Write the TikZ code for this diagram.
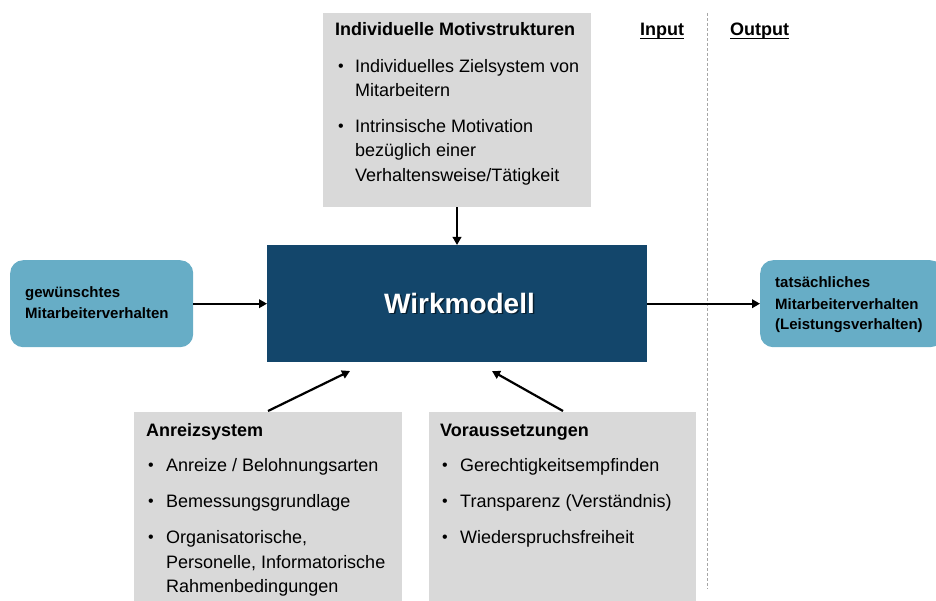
\documentclass[tikz,border=0pt]{standalone}
\usepackage{fontspec}
\setmainfont{Liberation Sans}
\usetikzlibrary{arrows.meta}
\definecolor{navy}{HTML}{13466B}
\definecolor{lblue}{HTML}{67ADC6}
\definecolor{lgray}{HTML}{D9D9D9}
\definecolor{dgray}{HTML}{A6A6A6}
\tikzset{
  graybox/.style={fill=lgray, draw=none, anchor=north west, inner sep=0pt},
  bluebox/.style={fill=lblue, draw=none, rounded corners=13pt, anchor=north west, inner sep=0pt},
  ttl/.style={anchor=base west, inner sep=0pt, font=\fontsize{18}{22}\selectfont\bfseries},
  itm/.style={anchor=base west, inner sep=0pt, font=\fontsize{18}{22}\selectfont},
  bul/.style={anchor=base west, inner sep=0pt, font=\fontsize{16}{22}\selectfont},
  btxt/.style={anchor=base west, inner sep=0pt, font=\fontsize{15}{20}\selectfont\bfseries},
  arr/.style={line width=2.2pt, -{Triangle[length=8pt,width=8.5pt]}},
  uline/.style={line width=1.2pt},
}
\begin{document}
\begin{tikzpicture}[x=1pt,y=-1pt]
\useasboundingbox (0,0) rectangle (936,601);
\clip (0,0) rectangle (936,601);
% boxes
\node[graybox, minimum width=268pt, minimum height=194pt] (mot) at (323,13) {};
\node[graybox, minimum width=268pt, minimum height=195pt] (anr) at (134,412) {};
\node[graybox, minimum width=267pt, minimum height=195pt] (vor) at (429,412) {};
\node[fill=navy, anchor=north west, inner sep=0pt, minimum width=380pt, minimum height=117pt] (wirk) at (267,245) {};
\node[bluebox, minimum width=183pt, minimum height=87pt] (gew) at (10,260) {};
\node[bluebox, minimum width=183pt, minimum height=87pt] (tat) at (760,260) {};
% dashed separator
\coordinate (dtop) at (707,13);
\coordinate (dbot) at (707,589);
\draw[dgray, line width=1pt, dash pattern=on 3pt off 2pt] (dtop) -- (dbot);
% Input / Output
\node[ttl] (inp) at (640,36) {Input};
\node[ttl] (outp) at (730,36) {Output};
\draw[uline] ([yshift=-2.5pt]inp.base west) -- ([yshift=-2.5pt]inp.base east);
\draw[uline] ([yshift=-2.5pt]outp.base west) -- ([yshift=-2.5pt]outp.base east);
% Wirkmodell text
\node[anchor=base, inner sep=0pt, font=\fontsize{28}{30}\selectfont\bfseries, text=black, opacity=0.55] (wshadow) at (461,314.5) {Wirkmodell};
\node[anchor=base, inner sep=0pt, font=\fontsize{28}{30}\selectfont\bfseries, text=white] (wtxt) at (459.5,313) {Wirkmodell};
% top box text
\node[ttl] (motT) at (335,36) {Individuelle Motivstrukturen};
\node[bul] (motB1) at (338,72) {•};
\node[itm] (mot1) at (355,73) {Individuelles Zielsystem von};
\node[itm] (mot2) at (355,97) {Mitarbeitern};
\node[bul] (motB2) at (338,132) {•};
\node[itm] (mot3) at (355,133) {Intrinsische Motivation};
\node[itm] (mot4) at (355,157) {bezüglich einer};
\node[itm] (mot5) at (355,182) {Verhaltensweise/Tätigkeit};
% bottom left text
\node[ttl] (anrT) at (146,436) {Anreizsystem};
\node[bul] (anrB1) at (148,470) {•};
\node[itm] (anr1) at (166,471) {Anreize / Belohnungsarten};
\node[bul] (anrB2) at (148,506) {•};
\node[itm] (anr2) at (166,507) {Bemessungsgrundlage};
\node[bul] (anrB3) at (148,542) {•};
\node[itm] (anr3) at (166,543) {Organisatorische,};
\node[itm] (anr4) at (166,568) {Personelle, Informatorische};
\node[itm] (anr5) at (166,592) {Rahmenbedingungen};
% bottom right text
\node[ttl] (vorT) at (440,436) {Voraussetzungen};
\node[bul] (vorB1) at (442,470) {•};
\node[itm] (vor1) at (460,471) {Gerechtigkeitsempfinden};
\node[bul] (vorB2) at (442,506) {•};
\node[itm] (vor2) at (460,507) {Transparenz (Verständnis)};
\node[bul] (vorB3) at (442,542) {•};
\node[itm] (vor3) at (460,543) {Wiederspruchsfreiheit};
% blue box texts
\node[btxt] (gew1) at (25,298) {gewünschtes};
\node[btxt] (gew2) at (25,318) {Mitarbeiterverhalten};
\node[btxt] (tat1) at (775,288) {tatsächliches};
\node[btxt] (tat2) at (775,309) {Mitarbeiterverhalten};
\node[btxt] (tat3) at (775,330) {(Leistungsverhalten)};
% arrows
\draw[arr] (mot.south -| 457,0) -- (wirk.north -| 457,0);
\draw[arr] (gew.east) -- (wirk.west |- gew.east);
\draw[arr] (wirk.east |- tat.west) -- (tat.west);
\coordinate (a1s) at (268,411);
\coordinate (a1e) at (350,371);
\coordinate (a2s) at (563,411);
\coordinate (a2e) at (492,371);
\draw[arr] (a1s) -- (a1e);
\draw[arr] (a2s) -- (a2e);
\end{tikzpicture}
\end{document}
